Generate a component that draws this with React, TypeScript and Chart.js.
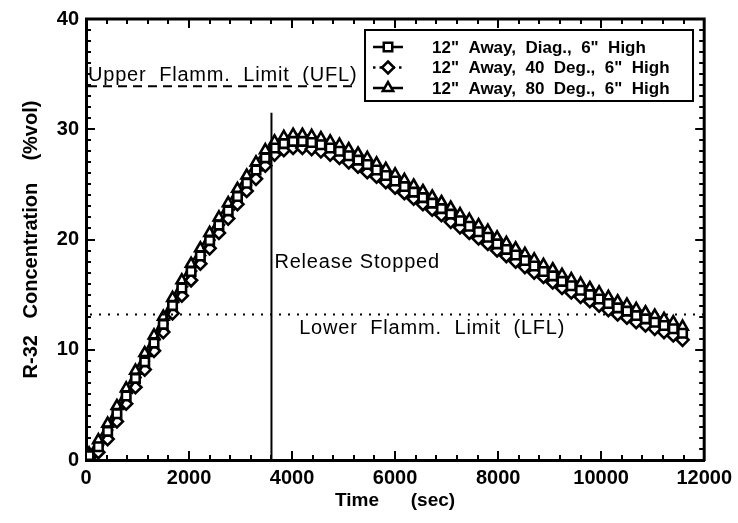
import React, { useEffect, useRef } from 'react';
import { Chart, registerables } from 'chart.js';

Chart.register(...registerables);

// ---------- data ----------
const TIME_SEC = [
  60, 240, 420, 600, 780, 960, 1140, 1320, 1500, 1680, 1860, 2040, 2220, 2400, 2580, 2760, 2940, 3120, 3300, 3480,
  3660, 3840, 4020, 4200, 4380, 4560, 4740, 4920, 5100, 5280, 5460, 5640, 5820, 6000, 6180, 6360, 6540, 6720, 6900,
  7080, 7260, 7440, 7620, 7800, 7980, 8160, 8340, 8520, 8700, 8880, 9060, 9240, 9420, 9600, 9780, 9960, 10140, 10320,
  10500, 10680, 10860, 11040, 11220, 11400, 11580,
];

const DIAG_6IN = [
  0.4, 1.2, 2.6, 4.2, 5.8, 7.4, 8.9, 10.6, 12.3, 14.0, 15.6, 17.1, 18.5, 19.9, 21.3, 22.6, 23.9, 25.1, 26.3, 27.4,
  28.3, 28.7, 28.9, 28.9, 28.8, 28.6, 28.3, 28.0, 27.6, 27.2, 26.8, 26.3, 25.8, 25.3, 24.8, 24.3, 23.8, 23.3, 22.8,
  22.3, 21.7, 21.2, 20.7, 20.2, 19.6, 19.1, 18.6, 18.1, 17.6, 17.1, 16.7, 16.2, 15.8, 15.4, 15.0, 14.6, 14.2, 13.8,
  13.5, 13.1, 12.8, 12.5, 12.2, 11.9, 11.5,
];

const DEG40_6IN = [
  0.2, 0.7, 1.9, 3.5, 5.1, 6.6, 8.2, 9.9, 11.6, 13.3, 14.9, 16.3, 17.8, 19.2, 20.6, 21.9, 23.2, 24.4, 25.5, 26.7,
  27.7, 28.1, 28.3, 28.3, 28.2, 28.0, 27.7, 27.4, 27.0, 26.6, 26.1, 25.7, 25.2, 24.7, 24.2, 23.7, 23.2, 22.7, 22.2,
  21.6, 21.1, 20.6, 20.1, 19.6, 19.0, 18.5, 18.0, 17.5, 17.0, 16.6, 16.1, 15.6, 15.2, 14.8, 14.4, 14.0, 13.6, 13.2,
  12.9, 12.5, 12.2, 11.9, 11.6, 11.3, 10.9,
];

const DEG80_6IN = [
  0.6, 1.8, 3.3, 4.9, 6.5, 8.1, 9.7, 11.3, 13.0, 14.7, 16.3, 17.8, 19.2, 20.6, 22.0, 23.3, 24.6, 25.8, 27.0, 28.1,
  28.9, 29.3, 29.5, 29.5, 29.4, 29.2, 28.9, 28.6, 28.2, 27.8, 27.4, 26.9, 26.4, 25.9, 25.4, 24.9, 24.4, 23.9, 23.4,
  22.9, 22.3, 21.8, 21.3, 20.8, 20.2, 19.7, 19.2, 18.7, 18.2, 17.7, 17.3, 16.8, 16.4, 16.0, 15.6, 15.2, 14.8, 14.4,
  14.1, 13.7, 13.4, 13.1, 12.8, 12.5, 12.1,
];

const SERIES_NAMES = [
  '12"  Away,  Diag.,  6"  High',
  '12"  Away,  40  Deg.,  6"  High',
  '12"  Away,  80  Deg.,  6"  High',
];

const X_MIN = 0;
const X_MAX = 12000;
const X_MAJOR = 2000;
const X_MINOR = 400;
const Y_MIN = 0;
const Y_MAX = 40;
const Y_MAJOR = 10;
const Y_MINOR = 1;

const UFL_PCT = 33.9;
const UFL_LINE_END_SEC = 5200;
const LFL_PCT = 13.2;
const LFL_LABEL_SEC = 6720;
const RELEASE_STOP_SEC = 3600;
const RELEASE_LINE_TOP = 31.5;
const RELEASE_LABEL_PCT = 17.4;

const UFL_TEXT = 'Upper  Flamm.  Limit  (UFL)';
const LFL_TEXT = 'Lower  Flamm.  Limit  (LFL)';
const RELEASE_TEXT = 'Release Stopped';
const X_TITLE = 'Time      (sec)';
const Y_TITLE = 'R-32   Concentration    (%vol)';

// ---------- helpers ----------
const FONT = '"Liberation Sans", Arial, sans-serif';

function drawMarker(ctx: CanvasRenderingContext2D, style: string, cx: number, cy: number, r: number) {
  ctx.beginPath();
  if (style === 'rect') {
    const s = r * Math.SQRT1_2;
    ctx.rect(cx - s, cy - s, 2 * s, 2 * s);
  } else if (style === 'rectRot') {
    ctx.moveTo(cx, cy - r);
    ctx.lineTo(cx + r, cy);
    ctx.lineTo(cx, cy + r);
    ctx.lineTo(cx - r, cy);
    ctx.closePath();
  } else {
    for (let k = 0; k < 3; k++) {
      const a = (k * 2 * Math.PI) / 3;
      const px = cx + Math.sin(a) * r;
      const py = cy - Math.cos(a) * r;
      if (k === 0) ctx.moveTo(px, py);
      else ctx.lineTo(px, py);
    }
    ctx.closePath();
  }
  ctx.fillStyle = '#fff';
  ctx.fill();
  ctx.stroke();
}

const annotationPlugin = {
  id: 'annotations',
  afterDatasetsDraw(chart: any) {
    const { ctx, chartArea: a, scales } = chart;
    const x = scales.x;
    const y = scales.y;
    ctx.save();
    ctx.strokeStyle = '#000';
    ctx.fillStyle = '#000';

    // UFL dashed line
    const yU = y.getPixelForValue(UFL_PCT);
    ctx.lineWidth = 2;
    ctx.setLineDash([9, 6]);
    ctx.beginPath();
    ctx.moveTo(a.left + 2, yU);
    ctx.lineTo(x.getPixelForValue(UFL_LINE_END_SEC), yU);
    ctx.stroke();

    // LFL dotted line
    const yL = y.getPixelForValue(LFL_PCT);
    ctx.setLineDash([2, 7]);
    ctx.beginPath();
    ctx.moveTo(a.left + 4, yL);
    ctx.lineTo(a.right, yL);
    ctx.stroke();
    ctx.setLineDash([]);

    // release stopped line
    const xR = x.getPixelForValue(RELEASE_STOP_SEC);
    ctx.lineWidth = 2;
    ctx.beginPath();
    ctx.moveTo(xR, y.getPixelForValue(Y_MIN));
    ctx.lineTo(xR, y.getPixelForValue(RELEASE_LINE_TOP));
    ctx.stroke();

    // texts
    ctx.font = `20px ${FONT}`;
    (ctx as any).letterSpacing = '0.8px';
    ctx.textBaseline = 'alphabetic';
    ctx.textAlign = 'left';
    ctx.fillText(UFL_TEXT, a.left + 2, yU - 5);
    ctx.fillText(RELEASE_TEXT, xR + 3, y.getPixelForValue(RELEASE_LABEL_PCT));
    ctx.textAlign = 'center';
    ctx.fillText(LFL_TEXT, x.getPixelForValue(LFL_LABEL_SEC), yL + 20);
    ctx.restore();
  },
  afterDraw(chart: any) {
    const { ctx, chartArea: a, scales } = chart;
    const x = scales.x;
    const y = scales.y;
    ctx.save();
    ctx.strokeStyle = '#000';

    // top and right frame
    ctx.lineWidth = 3;
    ctx.beginPath();
    ctx.moveTo(a.left - 1, a.top);
    ctx.lineTo(a.right, a.top);
    ctx.lineTo(a.right, a.bottom + 1);
    ctx.stroke();

    // inward ticks
    ctx.lineWidth = 2;
    ctx.beginPath();
    for (let v = Y_MIN; v <= Y_MAX; v += Y_MINOR) {
      const py = Math.round(y.getPixelForValue(v));
      const len = v % Y_MAJOR === 0 ? 9 : 5;
      ctx.moveTo(a.left, py);
      ctx.lineTo(a.left + len, py);
      ctx.moveTo(a.right, py);
      ctx.lineTo(a.right - len, py);
    }
    for (let v = X_MIN; v <= X_MAX; v += X_MINOR) {
      const px = Math.round(x.getPixelForValue(v));
      const len = v % X_MAJOR === 0 ? 9 : 5;
      ctx.moveTo(px, a.bottom);
      ctx.lineTo(px, a.bottom - len);
      ctx.moveTo(px, a.top);
      ctx.lineTo(px, a.top + len);
    }
    ctx.stroke();

    // legend box
    const bx = a.left + 279;
    const by = a.top + 11;
    const bw = 328;
    const bh = 71;
    ctx.fillStyle = '#fff';
    ctx.lineWidth = 2;
    ctx.fillRect(bx, by, bw, bh);
    ctx.strokeRect(bx, by, bw, bh);

    ctx.font = `bold 17px ${FONT}`;
    ctx.textBaseline = 'middle';
    ctx.textAlign = 'left';
    chart.data.datasets.forEach((ds: any, i: number) => {
      const ry = by + 17 + i * 20.5;
      ctx.strokeStyle = '#000';
      ctx.lineWidth = 2.5;
      ctx.setLineDash(ds.borderDash && ds.borderDash.length ? [2.5, 4] : []);
      ctx.beginPath();
      ctx.moveTo(bx + 8, ry);
      ctx.lineTo(bx + 38, ry);
      ctx.stroke();
      ctx.setLineDash([]);
      ctx.lineWidth = 2.5;
      drawMarker(ctx, ds.pointStyle, bx + 23, ry, 6);
      ctx.fillStyle = '#000';
      ctx.fillText(ds.label, bx + 67, ry + 1);
    });
    ctx.restore();
  },
};

function makeDataset(label: string, values: number[], pointStyle: string, dash: number[]) {
  return {
    label,
    data: TIME_SEC.map((t, i) => ({ x: t, y: values[i] })),
    borderColor: '#000',
    backgroundColor: '#fff',
    borderWidth: 2.5,
    borderDash: dash,
    pointStyle,
    pointRadius: 6,
    pointBorderWidth: 2.6,
    pointBackgroundColor: '#fff',
    pointBorderColor: '#000',
    tension: 0,
  };
}

export default function App() {
  const ref = useRef<HTMLCanvasElement | null>(null);

  useEffect(() => {
    if (!ref.current) return;
    const bold20 = { family: FONT, size: 20, weight: 'bold' as const };
    const plain = (v: any) => String(v);
    const chart = new Chart(ref.current, {
      type: 'line',
      data: {
        datasets: [
          makeDataset(SERIES_NAMES[0], DIAG_6IN, 'rect', []),
          makeDataset(SERIES_NAMES[1], DEG40_6IN, 'rectRot', [2, 4]),
          makeDataset(SERIES_NAMES[2], DEG80_6IN, 'triangle', []),
        ] as any,
      },
      options: {
        responsive: true,
        maintainAspectRatio: false,
        animation: false,
        events: [],
        layout: { padding: { left: 0, right: 31, top: 19, bottom: 0 } },
        plugins: {
          legend: { display: false },
          tooltip: { enabled: false },
        },
        scales: {
          x: {
            type: 'linear',
            min: X_MIN,
            max: X_MAX,
            ticks: {
              stepSize: X_MAJOR,
              font: bold20,
              color: '#000',
              padding: 6,
              maxRotation: 0,
              autoSkip: false,
              callback: plain,
            },
            grid: { display: false, drawTicks: false },
            border: { display: true, color: '#000', width: 3 },
            title: {
              display: true,
              text: X_TITLE,
              color: '#000',
              font: { family: FONT, size: 19, weight: 'bold' },
              padding: { top: 0, bottom: 11 },
            },
            afterFit(s: any) {
              s.height = 63;
            },
          },
          y: {
            type: 'linear',
            min: Y_MIN,
            max: Y_MAX,
            ticks: {
              stepSize: Y_MAJOR,
              font: bold20,
              color: '#000',
              padding: 7,
              callback: plain,
            },
            grid: { display: false, drawTicks: false },
            border: { display: true, color: '#000', width: 3 },
            title: {
              display: true,
              text: Y_TITLE,
              color: '#000',
              font: bold20,
              padding: { top: 19, bottom: 0 },
            },
            afterFit(s: any) {
              s.width = 86;
            },
          },
        },
      } as any,
      plugins: [annotationPlugin],
    });
    return () => chart.destroy();
  }, []);

  return (
    <div style={{ position: 'fixed', left: 0, top: 0, width: 738, height: 523, background: '#fff' }}>
      <canvas ref={ref} />
    </div>
  );
}
